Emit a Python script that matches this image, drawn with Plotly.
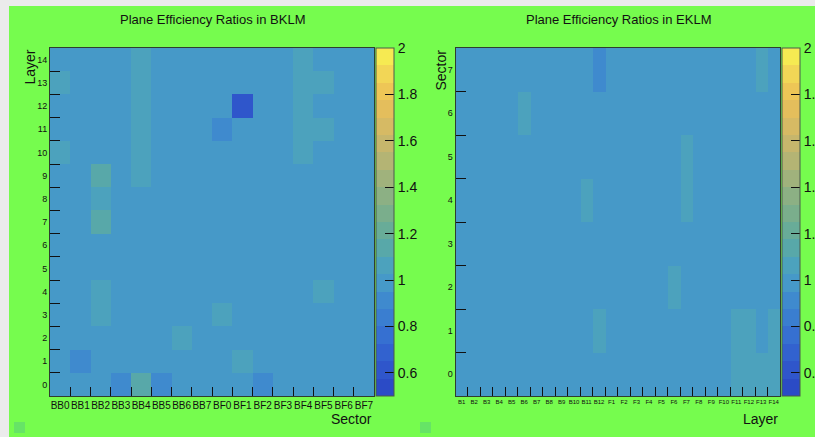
import plotly.graph_objects as go

W, H = 815, 437

# ---------------- data ----------------
bklm_sectors = ["BB0", "BB1", "BB2", "BB3", "BB4", "BB5", "BB6", "BB7",
                "BF0", "BF1", "BF2", "BF3", "BF4", "BF5", "BF6", "BF7"]
bklm_layers = [str(i) for i in range(15)]
# rows: layer 0 .. 14, columns: BB0 .. BF7
bklm_ratio = [
    [1.00, 1.00, 1.00, 0.88, 1.14, 0.88, 1.00, 1.00, 1.00, 1.00, 0.88, 1.00, 1.00, 1.00, 1.00, 1.00],
    [1.00, 0.88, 1.00, 1.00, 1.00, 1.00, 1.00, 1.00, 1.00, 1.07, 1.00, 1.00, 1.00, 1.00, 1.00, 1.00],
    [1.00, 1.00, 1.00, 1.00, 1.00, 1.00, 1.07, 1.00, 1.00, 1.00, 1.00, 1.00, 1.00, 1.00, 1.00, 1.00],
    [1.00, 1.00, 1.05, 1.00, 1.00, 1.00, 1.00, 1.00, 1.07, 1.00, 1.00, 1.00, 1.00, 1.00, 1.00, 1.00],
    [1.00, 1.00, 1.05, 1.00, 1.00, 1.00, 1.00, 1.00, 1.00, 1.00, 1.00, 1.00, 1.00, 1.07, 1.00, 1.00],
    [1.00, 1.00, 1.00, 1.00, 1.00, 1.00, 1.00, 1.00, 1.00, 1.00, 1.00, 1.00, 1.00, 1.00, 1.00, 1.00],
    [1.00, 1.00, 1.00, 1.00, 1.00, 1.00, 1.00, 1.00, 1.00, 1.00, 1.00, 1.00, 1.00, 1.00, 1.00, 1.00],
    [1.00, 1.00, 1.12, 1.00, 1.00, 1.00, 1.00, 1.00, 1.00, 1.00, 1.00, 1.00, 1.00, 1.00, 1.00, 1.00],
    [1.00, 1.00, 1.05, 1.00, 1.00, 1.00, 1.00, 1.00, 1.00, 1.00, 1.00, 1.00, 1.00, 1.00, 1.00, 1.00],
    [1.00, 1.00, 1.11, 1.00, 1.04, 1.00, 1.00, 1.00, 1.00, 1.00, 1.00, 1.00, 1.00, 1.00, 1.00, 1.00],
    [1.04, 1.00, 1.00, 1.00, 1.04, 1.00, 1.00, 1.00, 1.00, 1.00, 1.00, 1.00, 1.04, 1.00, 1.00, 1.00],
    [1.00, 1.00, 1.00, 1.00, 1.04, 1.00, 1.00, 1.00, 0.90, 1.00, 1.00, 1.00, 1.04, 1.06, 1.00, 1.00],
    [1.00, 1.00, 1.00, 1.00, 1.04, 1.00, 1.00, 1.00, 1.00, 0.60, 1.00, 1.00, 1.04, 1.00, 1.00, 1.00],
    [1.05, 1.00, 1.00, 1.00, 1.04, 1.00, 1.00, 1.00, 1.00, 1.00, 1.00, 1.00, 1.04, 1.06, 1.00, 1.00],
    [1.00, 1.00, 1.00, 1.00, 1.04, 1.00, 1.00, 1.00, 1.00, 1.00, 1.00, 1.00, 1.04, 1.00, 1.00, 1.00],
]

eklm_layers = ["B1", "B2", "B3", "B4", "B5", "B6", "B7", "B8", "B9", "B10", "B11", "B12",
               "F1", "F2", "F3", "F4", "F5", "F6", "F7", "F8", "F9", "F10", "F11", "F12", "F13", "F14"]
eklm_sectors = [str(i) for i in range(8)]
# rows: sector 0 .. 7, columns: B1 .. F14
eklm_ratio = [
    [1.00, 1.00, 1.00, 1.00, 1.00, 1.00, 1.00, 1.00, 1.00, 1.00, 1.00, 1.00, 1.00, 1.00, 1.00, 1.00, 1.00, 1.00, 1.00, 1.00, 1.00, 1.00, 1.06, 1.06, 1.06, 1.06],
    [1.00, 1.00, 1.00, 1.00, 1.00, 1.00, 1.00, 1.00, 1.00, 1.00, 1.00, 1.05, 1.00, 1.00, 1.00, 1.00, 1.00, 1.00, 1.00, 1.00, 1.00, 1.00, 1.06, 1.06, 1.00, 1.06],
    [1.00, 1.00, 1.00, 1.00, 1.00, 1.00, 1.00, 1.00, 1.00, 1.00, 1.00, 1.00, 1.00, 1.00, 1.00, 1.00, 1.00, 1.05, 1.00, 1.00, 1.00, 1.00, 1.00, 1.00, 1.00, 1.00],
    [1.00, 1.00, 1.00, 1.00, 1.00, 1.00, 1.00, 1.00, 1.00, 1.00, 1.00, 1.00, 1.00, 1.00, 1.00, 1.00, 1.00, 1.00, 1.00, 1.00, 1.00, 1.00, 1.00, 1.00, 1.00, 1.00],
    [1.00, 1.00, 1.00, 1.00, 1.00, 1.00, 1.00, 1.00, 1.00, 1.00, 1.04, 1.00, 1.00, 1.00, 1.00, 1.00, 1.00, 1.00, 1.04, 1.00, 1.00, 1.00, 1.00, 1.00, 1.00, 1.00],
    [1.00, 1.00, 1.00, 1.00, 1.00, 1.00, 1.00, 1.00, 1.00, 1.00, 1.00, 1.00, 1.00, 1.00, 1.00, 1.00, 1.00, 1.00, 1.04, 1.00, 1.00, 1.00, 1.00, 1.00, 1.00, 1.00],
    [1.00, 1.00, 1.00, 1.00, 1.00, 1.04, 1.00, 1.00, 1.00, 1.00, 1.00, 1.00, 1.00, 1.00, 1.00, 1.00, 1.00, 1.00, 1.00, 1.00, 1.00, 1.00, 1.00, 1.00, 1.00, 1.00],
    [1.00, 1.00, 1.00, 1.00, 1.00, 1.00, 1.00, 1.00, 1.00, 1.00, 1.00, 0.92, 1.00, 1.00, 1.00, 1.00, 1.00, 1.00, 1.00, 1.00, 1.00, 1.00, 1.00, 1.00, 1.04, 1.00],
]

z_min, z_max = 0.5, 2.0
cbar_ticks = [0.6, 0.8, 1.0, 1.2, 1.4, 1.6, 1.8, 2.0]
cbar_labels = ["0.6", "0.8", "1", "1.2", "1.4", "1.6", "1.8", "2"]

# 20 contour band colours (low -> high)
band_colors = ["#2b4bc6", "#2f56cb", "#3262cf", "#3670d1", "#3a7ed0",
               "#3f8ace", "#4699c8", "#4ca2bd", "#58a8a9", "#68ac98",
               "#7aae8c", "#8cb084", "#a0b27c", "#b4b474", "#c6b66c",
               "#d6ba64", "#e4be5c", "#eec656", "#f2d656", "#f6ea52"]

# ---------------- styling ----------------
GREEN = "#76fc4e"
FONT = "Liberation Sans, Arial, Helvetica, sans-serif"

n = len(band_colors)
colorscale = []
for i, c in enumerate(band_colors):
    colorscale.append([i / n, c])
    colorscale.append([(i + 1) / n, c])


def fx(px):
    return px / W


def fy(py):
    return 1 - py / H


top, bottom = 48, 396
left1, right1 = 50, 374
left2, right2 = 455.5, 780


def cbar(x0):
    return dict(
        x=fx(x0), xanchor="left", xpad=0,
        y=fy(top), yanchor="top", ypad=0,
        len=(bottom - top) / H, lenmode="fraction",
        thickness=18, thicknessmode="pixels",
        outlinewidth=1, outlinecolor="#4a5a4a",
        tickmode="array", tickvals=cbar_ticks, ticktext=cbar_labels,
        ticks="inside", ticklen=9, tickcolor="#111", tickwidth=1,
        tickfont=dict(family=FONT, size=14, color="#111"),
    )


fig = go.Figure()
fig.add_trace(go.Heatmap(
    x=bklm_sectors, y=bklm_layers, z=bklm_ratio,
    zmin=z_min, zmax=z_max, colorscale=colorscale,
    colorbar=cbar(376), xaxis="x", yaxis="y", xgap=0, ygap=0,
))
fig.add_trace(go.Heatmap(
    x=eklm_layers, y=eklm_sectors, z=eklm_ratio,
    zmin=z_min, zmax=z_max, colorscale=colorscale,
    colorbar=cbar(782), xaxis="x2", yaxis="y2",
))

axis_common = dict(
    type="category", tickson="boundaries", ticks="inside", tickcolor="#111",
    tickwidth=1, showline=True, mirror=True, linecolor="#2f3f2f", linewidth=1,
    showgrid=False, zeroline=False, fixedrange=True,
)

fig.update_layout(
    width=W, height=H, autosize=False,
    margin=dict(l=0, r=0, t=0, b=0, autoexpand=False),
    paper_bgcolor=GREEN, plot_bgcolor="#4699c8",
    showlegend=False,
    xaxis=dict(domain=[fx(left1), fx(right1)], anchor="y", ticklen=9,
               tickfont=dict(family=FONT, size=10, color="#111"), tickangle=0,
               categoryorder="array", categoryarray=bklm_sectors, **axis_common),
    yaxis=dict(domain=[fy(bottom), fy(top)], anchor="x", ticklen=10,
               tickfont=dict(family=FONT, size=9, color="#111"),
               categoryorder="array", categoryarray=bklm_layers, **axis_common),
    xaxis2=dict(domain=[fx(left2), fx(right2)], anchor="y2", ticklen=9,
                tickfont=dict(family=FONT, size=6, color="#111"), tickangle=0,
                categoryorder="array", categoryarray=eklm_layers, **axis_common),
    yaxis2=dict(domain=[fy(bottom), fy(top)], anchor="x2", ticklen=10,
                tickfont=dict(family=FONT, size=9, color="#111"),
                categoryorder="array", categoryarray=eklm_sectors, **axis_common),
    font=dict(family=FONT, color="#111"),
)

shapes = [
    dict(type="rect", xref="paper", yref="paper", x0=0, x1=1, y0=fy(6), y1=1,
         fillcolor="#ebebeb", line=dict(width=0), layer="below"),
    dict(type="rect", xref="paper", yref="paper", x0=0, x1=fx(9), y0=0, y1=1,
         fillcolor="#ebebeb", line=dict(width=0), layer="below"),
    dict(type="rect", xref="paper", yref="paper", x0=fx(14), x1=fx(25), y0=fy(433), y1=fy(422),
         fillcolor="#66e466", line=dict(width=0), layer="below"),
    dict(type="rect", xref="paper", yref="paper", x0=fx(420), x1=fx(431), y0=fy(433), y1=fy(422),
         fillcolor="#66e466", line=dict(width=0), layer="below"),
]
fig.update_layout(shapes=shapes)

ann = [
    dict(text="Plane Efficiency Ratios in BKLM", x=fx(212), y=fy(20), xanchor="center",
         yanchor="middle", font=dict(size=13)),
    dict(text="Plane Efficiency Ratios in EKLM", x=fx(618), y=fy(20), xanchor="center",
         yanchor="middle", font=dict(size=13)),
    dict(text="Sector", x=fx(374), y=fy(419), xanchor="right", yanchor="middle",
         font=dict(size=14)),
    dict(text="Layer", x=fx(780), y=fy(419), xanchor="right", yanchor="middle",
         font=dict(size=14)),
    dict(text="Layer", x=fx(29), y=fy(48), xanchor="center", yanchor="top",
         textangle=-90, font=dict(size=14)),
    dict(text="Sector", x=fx(440), y=fy(48), xanchor="center", yanchor="top",
         textangle=-90, font=dict(size=14)),
]
for a in ann:
    a.update(xref="paper", yref="paper", showarrow=False)
fig.update_layout(annotations=ann)

fig.write_html(
    "out.html",
    config={"displayModeBar": False, "responsive": False},
    post_script=(
        "document.documentElement.style.overflow='hidden';"
        "document.body.style.margin='0';document.body.style.overflow='hidden';"
    ),
)
